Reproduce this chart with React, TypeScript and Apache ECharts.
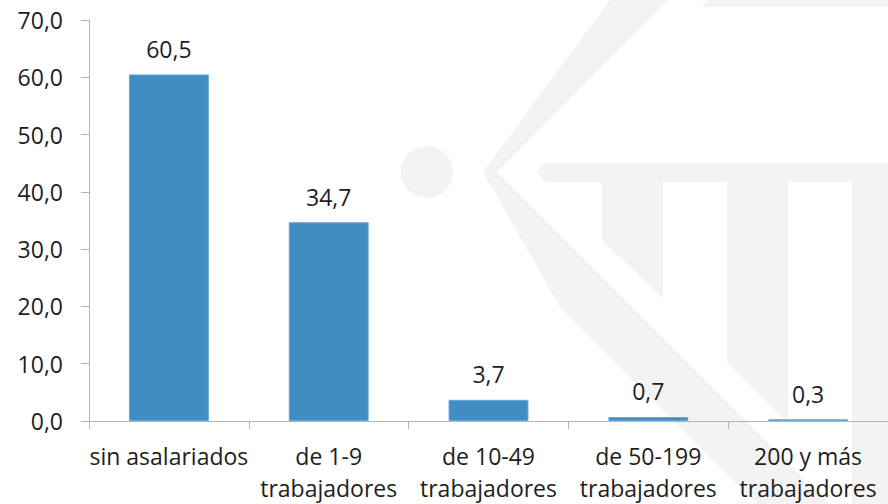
import React, { useEffect, useRef } from "react";
import * as echarts from "echarts";

const categories = [
  "sin asalariados",
  "de 1-9\ntrabajadores",
  "de 10-49\ntrabajadores",
  "de 50-199\ntrabajadores",
  "200 y más\ntrabajadores",
];
const values = [60.5, 34.7, 3.7, 0.7, 0.3];
const yMin = 0;
const yMax = 70;
const yStep = 10;

const fmt = (v: number) => v.toFixed(1).replace(".", ",");

const FONT = "'Open Sans', 'Noto Sans', sans-serif";
const TEXT = "#1e1e1e";
const AXIS = "#b3b3b3";
const WM = "#f3f3f3";
const FS = 23;

export default function App() {
  const ref = useRef<HTMLDivElement>(null);

  useEffect(() => {
    document.body.style.margin = "0";
    if (!ref.current) return;
    const chart = echarts.init(ref.current, undefined, { renderer: "svg" });
    const wmBase = { silent: true, z: -10, style: { fill: WM } };
    chart.setOption({
      animation: false,
      backgroundColor: "#ffffff",
      textStyle: { fontFamily: FONT },
      graphic: [
        { type: "circle", ...wmBase, shape: { cx: 427, cy: 172, r: 26 } },
        {
          type: "polygon",
          ...wmBase,
          shape: { points: [[483, 172], [610, 0], [668, 0], [497, 172]] },
        },
        {
          type: "polygon",
          ...wmBase,
          shape: { points: [[483, 172], [497, 172], [829, 504], [757, 504], [560, 307]] },
        },
        {
          type: "polygon",
          ...wmBase,
          shape: { points: [[537, 172], [545, 163], [900, 163], [900, 182], [545, 182]] },
        },
        {
          type: "polygon",
          ...wmBase,
          shape: { points: [[602, 182], [663, 182], [663, 298], [602, 240]] },
        },
        {
          type: "polygon",
          ...wmBase,
          shape: { points: [[727, 182], [788, 182], [788, 423], [727, 362]] },
        },
        {
          type: "polygon",
          ...wmBase,
          shape: { points: [[852, 182], [900, 182], [900, 504], [852, 504]] },
        },
        {
          type: "polygon",
          ...wmBase,
          shape: { points: [[702, 7], [708, 0], [900, 0], [900, 7]] },
        },
      ],
      grid: { left: 89, top: 20, width: 810, height: 404, containLabel: false },
      xAxis: {
        type: "category",
        data: categories,
        axisLine: { show: true, lineStyle: { color: AXIS, width: 1 } },
        axisTick: { show: true, length: 8, alignWithLabel: false, lineStyle: { color: AXIS } },
        axisLabel: {
          interval: 0,
          margin: 19,
          fontSize: FS,
          lineHeight: 32,
          color: TEXT,
          fontFamily: FONT,
          verticalAlign: "top",
        },
        splitLine: { show: false },
      },
      yAxis: {
        type: "value",
        min: yMin,
        max: yMax,
        interval: yStep,
        axisLine: { show: true, lineStyle: { color: AXIS, width: 1 } },
        axisTick: { show: true, length: 8, lineStyle: { color: AXIS } },
        axisLabel: {
          margin: 26,
          fontSize: FS,
          color: TEXT,
          fontFamily: FONT,
          formatter: (v: number) => fmt(v),
        },
        splitLine: { show: false },
      },
      series: [
        {
          type: "bar",
          data: values,
          barWidth: "50%",
          itemStyle: { color: "#3f8dc3", borderColor: "#6aa7d4", borderWidth: 1 },
          label: {
            show: true,
            position: "top",
            distance: 14,
            fontSize: FS,
            color: TEXT,
            fontFamily: FONT,
            formatter: (p: any) => fmt(p.value),
          },
        },
      ],
    });
    return () => chart.dispose();
  }, []);

  return <div ref={ref} style={{ width: 888, height: 504 }} />;
}
